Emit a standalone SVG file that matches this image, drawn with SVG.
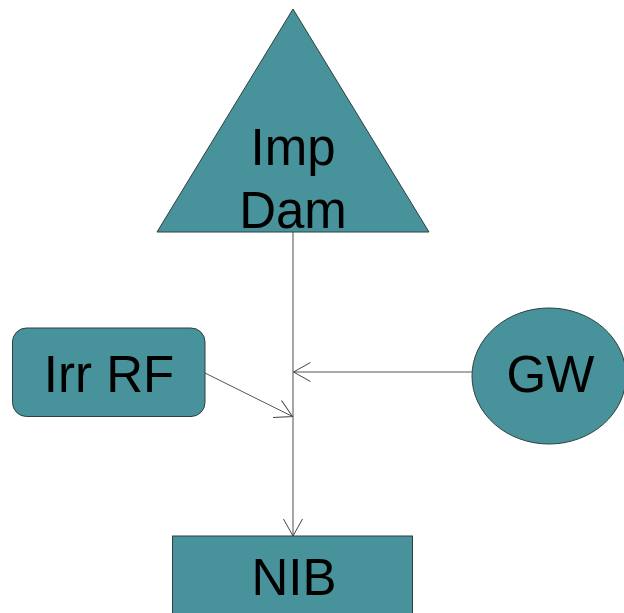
<svg xmlns="http://www.w3.org/2000/svg" width="624" height="613" viewBox="0 0 624 613">
<style>
.node{fill:#48939b;stroke:#2f3f40;stroke-width:1}
.lbl{font-family:"Liberation Sans",Arial,sans-serif;font-size:51px;fill:#000;text-anchor:middle}
.edge{fill:none;stroke:#555;stroke-width:1}
.trunk{fill:none;stroke:#888;stroke-width:1.5}
</style>
<defs>
<marker id="arr" markerUnits="userSpaceOnUse" markerWidth="20" markerHeight="22" viewBox="-18 -11 20 22" refX="0" refY="0" orient="auto">
<path d="M-17,-9.5 L0,0 L-17,9.5" fill="none" stroke="#444" stroke-width="1"/>
</marker>
</defs>
<rect width="624" height="613" fill="#fff"/>
<g id="connectors">
<line class="trunk" x1="293" y1="232" x2="293" y2="536" marker-end="url(#arr)"/>
<line class="edge" x1="472" y1="372" x2="293.5" y2="372" marker-end="url(#arr)"/>
<line class="edge" x1="205" y1="373" x2="292.5" y2="416.5" marker-end="url(#arr)"/>
</g>
<g id="impdam">
<polygon class="node" points="293,9 429,232 157,232"/>
<text class="lbl" x="293" y="165">Imp</text>
<text class="lbl" x="293" y="228">Dam</text>
</g>
<g id="irrrf">
<rect class="node" x="12.5" y="328" width="192.5" height="88.5" rx="14" ry="14"/>
<text class="lbl" x="109" y="392">Irr RF</text>
</g>
<g id="gw">
<ellipse class="node" cx="549" cy="376" rx="77" ry="68"/>
<text class="lbl" x="550.5" y="392">GW</text>
</g>
<g id="nib">
<rect class="node" x="172.5" y="536" width="240" height="90"/>
<text class="lbl" x="294" y="595">NIB</text>
</g>
</svg>
